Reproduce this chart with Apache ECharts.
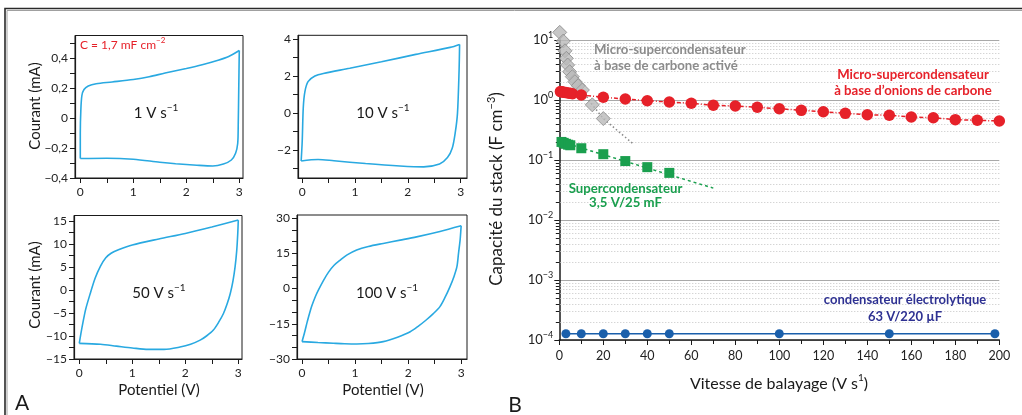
<!DOCTYPE html>
<html><head><meta charset="utf-8">
<script src="https://cdn.jsdelivr.net/npm/echarts@6/dist/echarts.min.js"></script>
<style>html,body{margin:0;padding:0;background:#fff}#c{width:1022px;height:415px}</style>
</head><body><div id="c"></div>
<script>
// ---------- Panel A : cyclic voltammograms (potential V, current mA) ----------
const cv1Forward = [[0,-0.27],[0,-0.1],[0.01,0.05],[0.03,0.15],[0.07,0.19],[0.15,0.213],[0.3,0.228],[0.6,0.24],[1.0,0.257],[1.3,0.275],[1.6,0.3],[2.0,0.33],[2.3,0.355],[2.6,0.385],[2.8,0.41],[3.0,0.45]];
const cv1Reverse = [[3.0,0.45],[2.99,0.2],[2.98,-0.05],[2.97,-0.17],[2.93,-0.235],[2.85,-0.28],[2.7,-0.307],[2.5,-0.32],[2.2,-0.315],[1.8,-0.305],[1.5,-0.295],[1.0,-0.275],[0.5,-0.268],[0,-0.27]];
const cv10Forward = [[-0.02,-2.58],[0,-1.5],[0.02,0.3],[0.05,1.15],[0.11,1.7],[0.24,2.0],[0.4,2.14],[0.9,2.42],[1.5,2.77],[2.15,3.17],[2.8,3.55],[2.98,3.71]];
const cv10Reverse = [[2.98,3.71],[2.97,2.3],[2.94,0],[2.9,-1.0],[2.84,-1.9],[2.75,-2.4],[2.6,-2.75],[2.3,-2.9],[1.85,-2.85],[1.2,-2.72],[0.6,-2.57],[0.3,-2.5],[-0.02,-2.58]];
const cv50Forward = [[0,-11.6],[0.03,-9.5],[0.07,-7],[0.12,-4.2],[0.2,-1],[0.3,2.6],[0.4,5.2],[0.5,7.0],[0.6,8.0],[0.75,8.8],[1.0,9.8],[1.5,11.1],[2.0,12.3],[2.5,13.7],[3.0,15.2]];
const cv50Reverse = [[3.0,15.2],[2.99,12.3],[2.97,8.5],[2.94,5.1],[2.9,2.0],[2.85,-0.7],[2.79,-3.0],[2.72,-5.1],[2.63,-7.0],[2.53,-8.7],[2.4,-10.0],[2.28,-10.9],[2.1,-11.8],[1.9,-12.4],[1.6,-12.9],[1.3,-12.9],[1.0,-12.6],[0.7,-12.2],[0.4,-11.8],[0,-11.6]];
const cv100Forward = [[0,-22.6],[0.05,-18.5],[0.1,-14],[0.18,-7.7],[0.25,-3.5],[0.31,-0.6],[0.4,3.3],[0.5,7],[0.6,9.8],[0.72,12.1],[0.85,14.3],[1.03,16.4],[1.25,17.9],[1.53,19.2],[1.85,20.6],[2.16,22.0],[2.6,24.3],[3.0,26.7]];
const cv100Reverse = [[3.0,26.7],[2.99,23.5],[2.98,20.6],[2.95,15],[2.92,9.3],[2.86,4.8],[2.79,0.8],[2.7,-3.6],[2.6,-7.7],[2.47,-10.8],[2.34,-13.4],[2.2,-15.9],[2.04,-18.4],[1.8,-20.7],[1.53,-22.6],[1.25,-23.4],[1.03,-23.6],[0.8,-23.5],[0.59,-23.3],[0.3,-23.0],[0,-22.6]];

const cvXLabels = [0,1,2,3];
const cvXTickMarks = [0,0.5,1,1.5,2,2.5,3];
const p1YLabels = [-0.4,-0.2,0,0.2,0.4];
const p1YTickMarks = [-0.4,-0.3,-0.2,-0.1,0,0.1,0.2,0.3,0.4,0.5];
const p2YLabels = [-2,0,2,4];
const p2YTickMarks = [-3,-2,-1,0,1,2,3,4];
const p3YLabels = [-15,-10,-5,0,5,10,15];
const p3YTickMarks = [-15,-12.5,-10,-7.5,-5,-2.5,0,2.5,5,7.5,10,12.5,15];
const p4YLabels = [-30,-15,0,15,30];
const p4YTickMarks = [-30,-25,-20,-15,-10,-5,0,5,10,15,20,25,30];

// ---------- Panel B : stack capacitance (F cm-3) vs scan rate (V s-1) ----------
const grayRate = [0.2,1.8,2.6,3.2,3.8,4.7,5.9,7.1,8.6,10.5,15,20];
const grayCap  = [13.4,9.6,6.6,4.95,3.83,2.96,2.45,2.02,1.73,1.47,0.83,0.49];
const grayFitRate = [10.5,15,20,34];
const grayFitCap  = [1.47,0.83,0.49,0.18];

const redRate = [0.5,1,1.5,2,3,4,5,6,10,20,30,40,50,60,70,80,90,100,110,120,130,140,150,160,170,180,190,200];
const redCap  = [1.38,1.37,1.36,1.35,1.33,1.31,1.29,1.27,1.21,1.11,1.04,0.973,0.926,0.881,0.816,0.794,0.756,0.716,0.673,0.638,0.600,0.569,0.556,0.521,0.507,0.470,0.459,0.447];

const greenRate = [1,2,3,4,5,10,20,30,40,50];
const greenCap  = [0.200,0.193,0.186,0.180,0.176,0.157,0.125,0.096,0.076,0.061];
const greenFitRate = [1,70];
const greenFitCap  = [0.2,0.034];

const blueRate = [3,10,20,30,40,50,100,150,198];
const blueCap  = [1.27e-4,1.27e-4,1.27e-4,1.27e-4,1.27e-4,1.27e-4,1.27e-4,1.27e-4,1.27e-4];

const bXLabels = [0,20,40,60,80,100,120,140,160,180,200];
const bYDecades = [1e-4,1e-3,1e-2,1e-1,1,10];
const bYExpLabels = ['−4','−3','−2','−1','0','1'];
const bMinorMultipliers = [2,3,4,5,6,7,8,9];

// ---------- styling ----------
const FONT = 'Lato, "Noto Sans", sans-serif';
const INK = '#1a1a1a';
const CV_COLOR = '#29a9e1';
const RED = '#e62129', GREEN = '#1a9f4e', GRAY_T = '#8c8c8c', BLUE_T = '#2e3192', BLUE = '#1a5fab';

const zip = (a, b) => a.map((v, i) => [v, b[i]]);
const fmt = v => String(v).replace('.', ',').replace('-', '−');

function cvXAxis(gi, min, max) {
  return {
    type: 'value', gridIndex: gi, min, max,
    axisLine: {show: true, onZero: false, lineStyle: {color: INK, width: 1.2}},
    axisTick: {show: true, customValues: cvXTickMarks, length: 5, lineStyle: {color: INK}},
    axisLabel: {customValues: cvXLabels, formatter: fmt, fontSize: 12, color: '#222', fontFamily: FONT, margin: 8},
    splitLine: {show: false}
  };
}
function cvYAxis(gi, min, max, labels, marks) {
  return {
    type: 'value', gridIndex: gi, min, max,
    axisLine: {show: true, onZero: false, lineStyle: {color: INK, width: 1.2}},
    axisTick: {show: true, customValues: marks, length: 5, lineStyle: {color: INK}},
    axisLabel: {customValues: labels, formatter: fmt, fontSize: 12, color: '#222', fontFamily: FONT, margin: 7},
    splitLine: {show: false}
  };
}
function cvSeries(gi, data) {
  return {type: 'line', xAxisIndex: gi, yAxisIndex: gi, data, smooth: 0.3, showSymbol: false, symbol: 'none',
    lineStyle: {color: CV_COLOR, width: 1.6}, silent: true, animation: false, z: 3};
}

const minorGridData = [];
bYDecades.slice(0, -1).forEach(d => bMinorMultipliers.forEach(m => minorGridData.push([0, m * d])));

function txt(x, y, text, o) {
  o = o || {};
  return {
    type: 'text', x, y, rotation: o.rot || 0, silent: true, z: 100,
    style: {
      text, x: 0, y: 0,
      fontSize: o.size || 13, fontFamily: FONT, fontWeight: o.bold ? 'bold' : 'normal',
      fill: o.color || '#1a1a1a',
      align: o.align || 'center', textAlign: o.align || 'center',
      verticalAlign: 'middle', textVerticalAlign: 'middle',
      rich: o.rich
    }
  };
}
function supRich(size, color, bold) {
  return {
    n: {fontSize: size, fontFamily: FONT, fill: color, color: color, fontWeight: bold ? 'bold' : 'normal', lineHeight: size + 6},
    s: {fontSize: Math.round(size * 0.65), fontFamily: FONT, fill: color, color: color, fontWeight: bold ? 'bold' : 'normal', verticalAlign: 'top', lineHeight: Math.round(size * 0.65)}
  };
}

const option = {
  animation: false,
  backgroundColor: '#fff',
  grid: [
    {left: 75, top: 35.5, width: 168, height: 142.5, show: true, borderColor: INK, borderWidth: 1, containLabel: false},
    {left: 298, top: 35.3, width: 169, height: 142.7, show: true, borderColor: INK, borderWidth: 1, containLabel: false},
    {left: 74, top: 215.5, width: 168, height: 143.5, show: true, borderColor: INK, borderWidth: 1, containLabel: false},
    {left: 297, top: 215, width: 170, height: 144, show: true, borderColor: INK, borderWidth: 1, containLabel: false},
    {left: 559.3, top: 40, width: 440, height: 300, show: false, containLabel: false}
  ],
  xAxis: [
    cvXAxis(0, -0.1, 3.07),
    cvXAxis(1, -0.08, 3.12),
    cvXAxis(2, -0.1, 3.07),
    cvXAxis(3, -0.095, 3.11),
    {
      type: 'value', gridIndex: 4, min: 0, max: 200, interval: 20,
      axisLine: {show: true, onZero: false, lineStyle: {color: INK, width: 1.5}},
      axisTick: {show: true, length: 5, lineStyle: {color: INK}},
      minorTick: {show: true, splitNumber: 2, length: 4, lineStyle: {color: INK}},
      axisLabel: {customValues: bXLabels, fontSize: 12.5, color: '#222', fontFamily: FONT, margin: 9},
      splitLine: {show: false}
    }
  ],
  yAxis: [
    cvYAxis(0, -0.4, 0.55, p1YLabels, p1YTickMarks),
    cvYAxis(1, -3.5, 4.2, p2YLabels, p2YTickMarks),
    cvYAxis(2, -15, 16.2, p3YLabels, p3YTickMarks),
    cvYAxis(3, -30, 31.3, p4YLabels, p4YTickMarks),
    {
      type: 'log', logBase: 10, gridIndex: 4, min: 1e-4, max: 10,
      axisLine: {show: true, onZero: false, lineStyle: {color: INK, width: 1.5}},
      axisTick: {show: true, length: 5, lineStyle: {color: INK}},
      axisLabel: {
        fontFamily: FONT, color: '#222', margin: 6,
        formatter: function (v) {
          const i = bYDecades.findIndex(d => Math.abs(Math.log10(d) - Math.log10(v)) < 1e-6);
          return i < 0 ? '' : '{n|10}{s|' + bYExpLabels[i] + '}';
        },
        rich: {
          n: {fontSize: 13, fontFamily: FONT, color: '#222', lineHeight: 18},
          s: {fontSize: 9, fontFamily: FONT, color: '#222', verticalAlign: 'top', lineHeight: 9}
        }
      },
      splitLine: {show: true, lineStyle: {color: '#a9a9a9', width: 1.2}}
    }
  ],
  series: [
    cvSeries(0, cv1Forward), cvSeries(0, cv1Reverse),
    cvSeries(1, cv10Forward), cvSeries(1, cv10Reverse),
    cvSeries(2, cv50Forward), cvSeries(2, cv50Reverse),
    cvSeries(3, cv100Forward), cvSeries(3, cv100Reverse),
    { // minor dotted grid lines + minor ticks for the log axis
      type: 'custom', xAxisIndex: 4, yAxisIndex: 4, data: minorGridData, silent: true, z: 1, clip: false,
      renderItem: function (params, api) {
        const v = api.value(1);
        const p0 = api.coord([0, v]);
        const p1 = api.coord([200, v]);
        const y = Math.round(p0[1]) + 0.5;
        return {type: 'group', children: [
          {type: 'line', shape: {x1: p0[0] + 1, y1: y, x2: p1[0], y2: y}, style: {stroke: '#c4c4c4', lineWidth: 1, lineDash: [1, 2]}},
          {type: 'line', shape: {x1: p0[0] - 3.5, y1: y, x2: p0[0], y2: y}, style: {stroke: INK, lineWidth: 1}}
        ]};
      }
    },
    {type: 'line', xAxisIndex: 4, yAxisIndex: 4, data: zip(grayFitRate, grayFitCap), showSymbol: false, symbol: 'none',
      lineStyle: {color: '#8a8a8a', width: 1.5, type: [1.5, 2.5]}, z: 2, silent: true},
    {type: 'line', xAxisIndex: 4, yAxisIndex: 4, data: zip(greenFitRate, greenFitCap), showSymbol: false, symbol: 'none',
      lineStyle: {color: GREEN, width: 1.5, type: [3, 3]}, z: 2, silent: true},
    {type: 'scatter', xAxisIndex: 4, yAxisIndex: 4, data: zip(grayRate, grayCap), symbol: 'diamond', symbolSize: 14,
      itemStyle: {color: '#b9b9b9', borderColor: '#8a8a8a', borderWidth: 1}, z: 4, clip: false, silent: true},
    {type: 'line', xAxisIndex: 4, yAxisIndex: 4, data: zip(redRate, redCap), symbol: 'circle', symbolSize: 11.5, showSymbol: true,
      lineStyle: {color: RED, width: 1.5, type: [4, 2, 1, 2]}, itemStyle: {color: RED}, z: 5, clip: false, silent: true},
    {type: 'line', xAxisIndex: 4, yAxisIndex: 4, data: zip(greenRate, greenCap), symbol: 'rect', symbolSize: 10, showSymbol: true,
      lineStyle: {width: 0, opacity: 0}, itemStyle: {color: GREEN}, z: 5, silent: true},
    {type: 'line', xAxisIndex: 4, yAxisIndex: 4, data: zip(blueRate, blueCap), symbol: 'circle', symbolSize: 9, showSymbol: true,
      lineStyle: {color: BLUE, width: 1.5}, itemStyle: {color: BLUE}, z: 5, clip: false, silent: true}
  ],
  graphic: [
    {type: 'polyline', silent: true, z: 50, shape: {points: [[5, 415], [5, 8.5], [1022, 8.5]]}, style: {stroke: '#2a2a2a', lineWidth: 1.6, fill: null}},
    {type: 'polyline', silent: true, z: 50, shape: {points: [[7, 415], [7, 10.5], [1022, 10.5]]}, style: {stroke: '#a0a0a0', lineWidth: 1, fill: null}},
    // panel A texts
    txt(35, 106, 'Courant (mA)', {size: 15, rot: Math.PI / 2}),
    txt(35, 285, 'Courant (mA)', {size: 15, rot: Math.PI / 2}),
    txt(159, 390, 'Potentiel (V)', {size: 15}),
    txt(383, 390, 'Potentiel (V)', {size: 15}),
    txt(80, 45, '{n|C = 1,7 mF cm}{s|−2}', {align: 'left', rich: supRich(12, RED, false)}),
    txt(156, 113, '{n|1 V s}{s|−1}', {rich: supRich(15, '#1a1a1a', false)}),
    txt(383, 113, '{n|10 V s}{s|−1}', {rich: supRich(15, '#1a1a1a', false)}),
    txt(159, 293, '{n|50 V s}{s|−1}', {rich: supRich(15, '#1a1a1a', false)}),
    txt(387, 293, '{n|100 V s}{s|−1}', {rich: supRich(15, '#1a1a1a', false)}),
    txt(22, 403, 'A', {size: 21}),
    // panel B texts
    txt(515, 405, 'B', {size: 21}),
    txt(497, 189, '{n|Capacité du stack (F cm}{s|−3}{n|)}', {rot: Math.PI / 2, rich: supRich(17, '#1a1a1a', false)}),
    txt(779, 384, '{n|Vitesse de balayage (V s}{s|1}{n|)}', {rich: supRich(16, '#1a1a1a', false)}),
    txt(594, 49.5, 'Micro-supercondensateur', {align: 'left', bold: true, size: 13.2, color: GRAY_T}),
    txt(594, 65.5, 'à base de carbone activé', {align: 'left', bold: true, size: 13.2, color: GRAY_T}),
    txt(913, 74.5, 'Micro-supercondensateur', {bold: true, size: 13.2, color: RED}),
    txt(913, 91, 'à base d’onions de carbone', {bold: true, size: 13.2, color: RED}),
    txt(625.5, 188.5, 'Supercondensateur', {bold: true, size: 13.2, color: GREEN}),
    txt(625.5, 203, '3,5 V/25 mF', {bold: true, size: 13.2, color: GREEN}),
    txt(905, 300, 'condensateur électrolytique', {bold: true, size: 13, color: BLUE_T}),
    txt(905, 316.5, '63 V/220 µF', {bold: true, size: 13, color: BLUE_T})
  ]
};

const chart = echarts.init(document.getElementById('c'), null, {renderer: 'canvas'});
chart.setOption(option);
</script>
</body></html>
